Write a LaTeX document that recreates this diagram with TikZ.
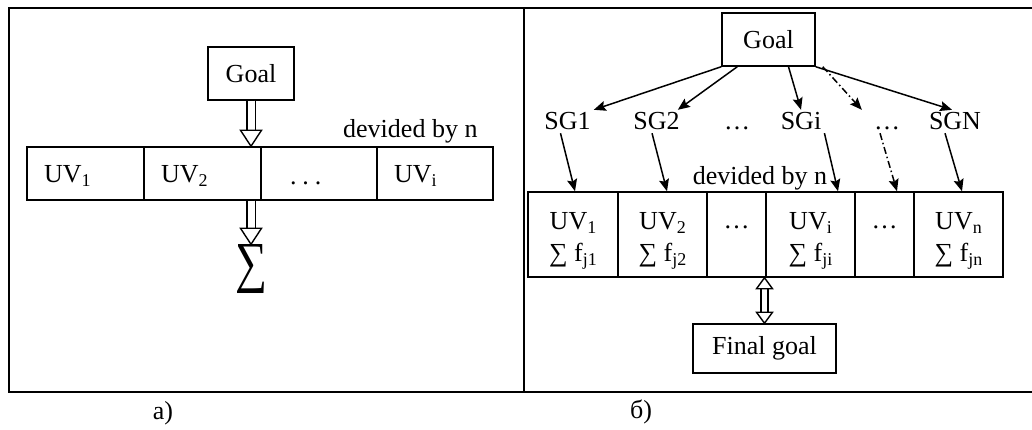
\documentclass[tikz,border=0pt]{standalone}
\usepackage{fontspec}
\setmainfont{Liberation Serif}
\usetikzlibrary{arrows.meta,calc}
\newcommand{\sbs}[1]{\raisebox{-0.15em}{\fontsize{18}{18}\selectfont #1}}
\newcommand{\hhead}[3]{\draw[line width=1.4pt, fill=white, line join=miter] (#1) -- ++(-#3,#2) -- ++(2*#3,0) -- cycle;}
\newcommand{\tallstrut}{\rule{0pt}{30pt}}
\tikzset{
  every node/.style={font=\fontsize{26}{32}\selectfont, inner sep=3pt},
  box/.style={draw, line width=1.5pt},
  cella/.style={box, minimum height=53pt, inner xsep=17pt, inner ysep=0pt, align=left},
  cellb/.style={box, minimum height=85pt, inner sep=0pt, align=center},
  lbl/.style={anchor=base, text height=17pt, text depth=0pt},
  shaft/.style={draw, double=white, double distance=7pt, line width=1.5pt},
  shaftb/.style={draw, double=white, double distance=5.5pt, line width=1.4pt},
  arr/.style={line width=1.5pt, -{Stealth[length=12pt,width=10pt,inset=2pt]}},
  dashdot/.style={arr, dash pattern=on 7pt off 3pt on 1.5pt off 3pt},
  frame/.style={line width=2pt}
}
\begin{document}
\begin{tikzpicture}[x=1pt, y=-1pt]
\useasboundingbox (0,0) rectangle (1032,430);
% frame
\draw[frame] (9,8) rectangle (1045,392);
\draw[frame] (524,8) -- (524,392);

% ---------- panel a ----------
\node[box, minimum width=86pt, minimum height=53pt, inner sep=0pt] (goalA) at (251,73.5) {Goal};
\node[cella, text width=83pt] (a1) at (85.5,173.5) {\rule{0pt}{22pt}UV\sbs{1}};
\node[cella, text width=83pt] (a2) at (202.5,173.5) {\rule{0pt}{22pt}UV\sbs{2}};
\node[cella, text width=82pt] (a3) at (319,173.5) {\rule{0pt}{22pt}\hspace*{12pt}.\hspace{6pt}.\hspace{6pt}.};
\node[cella, text width=82pt] (a4) at (435,173.5) {\rule{0pt}{22pt}UV\sbs{i}};
\node[anchor=base west, inner sep=0pt] (divA) at (343,138) {devided by n};
\node[inner sep=0pt] (sig) at (251,269) {\resizebox*{32pt}{49pt}{∑}};
\node[anchor=base] (labA) at (163,419) {a)};

\coordinate (tA) at (goalA.south |- a2.north);
\draw[shaft, shorten >=15pt] (goalA.south) -- (tA);
\hhead{tA}{-16}{10.5}
\coordinate (sA) at (goalA.south |- a2.south);
\coordinate (tS) at (goalA.south |- sig.north);
\draw[shaft, shorten >=15pt] (sA) -- (tS);
\hhead{tS}{-16}{10.5}

% ---------- panel b ----------
\node[box, minimum width=93pt, minimum height=53pt, inner sep=0pt] (goalB) at (768.5,39.5) {Goal};
\node[lbl] (sg1) at (567.5,130) {SG1};
\node[lbl] (sg2) at (656.5,130) {SG2};
\node[lbl] (dots1) at (737,130) {…};
\node[lbl] (sgi) at (801,130) {SGi};
\node[lbl] (dots2) at (887,130) {…};
\node[lbl] (sgn) at (955,130) {SGN};
\node[anchor=base, inner sep=0pt] (divB) at (760,185) {devided by n};

\node[cellb, minimum width=90pt] (b1) at (573,234.5) {\tallstrut UV\sbs{1}\\∑ f\sbs{j1}};
\node[cellb, minimum width=89pt] (b2) at (662.5,234.5) {\tallstrut UV\sbs{2}\\∑ f\sbs{j2}};
\node[cellb, minimum width=59pt] (b3) at (736.5,234.5) {\tallstrut\raisebox{0.2em}{…}\\\mbox{}};
\node[cellb, minimum width=89pt] (b4) at (810.5,234.5) {\tallstrut UV\sbs{i}\\∑ f\sbs{ji}};
\node[cellb, minimum width=59pt] (b5) at (884.5,234.5) {\tallstrut\raisebox{0.2em}{…}\\\mbox{}};
\node[cellb, minimum width=89pt] (b6) at (958.5,234.5) {\tallstrut UV\sbs{n}\\∑ f\sbs{jn}};

\node[box, minimum width=143pt, minimum height=49pt, inner sep=0pt] (fgoal) at (764.5,348.5) {Final goal};
\node[anchor=base] (labB) at (641,418) {б)};

% arrows goal -> subgoals
\draw[arr] (goalB.south west) -- (sg1.north east);
\draw[arr] ([xshift=16pt]goalB.south west) -- ([xshift=-5pt]sg2.north east);
\draw[arr] ([xshift=20pt]goalB.south) -- (sgi.north);
\draw[dashdot] ([xshift=7pt]goalB.south east) -- ([xshift=-9pt]dots2.north west);
\draw[arr] (goalB.south east) -- ([xshift=-3pt]sgn.north);

% arrows subgoals -> cells
\draw[arr] ([xshift=-7pt]sg1.south) -- ([xshift=2pt]b1.north);
\draw[arr] ([xshift=-4.5pt]sg2.south) -- ([xshift=4.5pt]b2.north);
\draw[arr] (sgi.south east) -- ([xshift=27.5pt]b4.north);
\draw[dashdot] ([xshift=-7pt]dots2.south) -- ([xshift=12.5pt]b5.north);
\draw[arr] ([xshift=-10pt]sgn.south) -- ([xshift=3.5pt]b6.north);

% double-headed hollow arrow
\coordinate (tB1) at (fgoal.north |- b4.south);
\coordinate (tB2) at (fgoal.north);
\draw[shaftb, shorten >=10pt, shorten <=10pt] (tB1) -- (tB2);
\hhead{tB1}{11}{8}
\hhead{tB2}{-11}{8}
\end{tikzpicture}
\end{document}
